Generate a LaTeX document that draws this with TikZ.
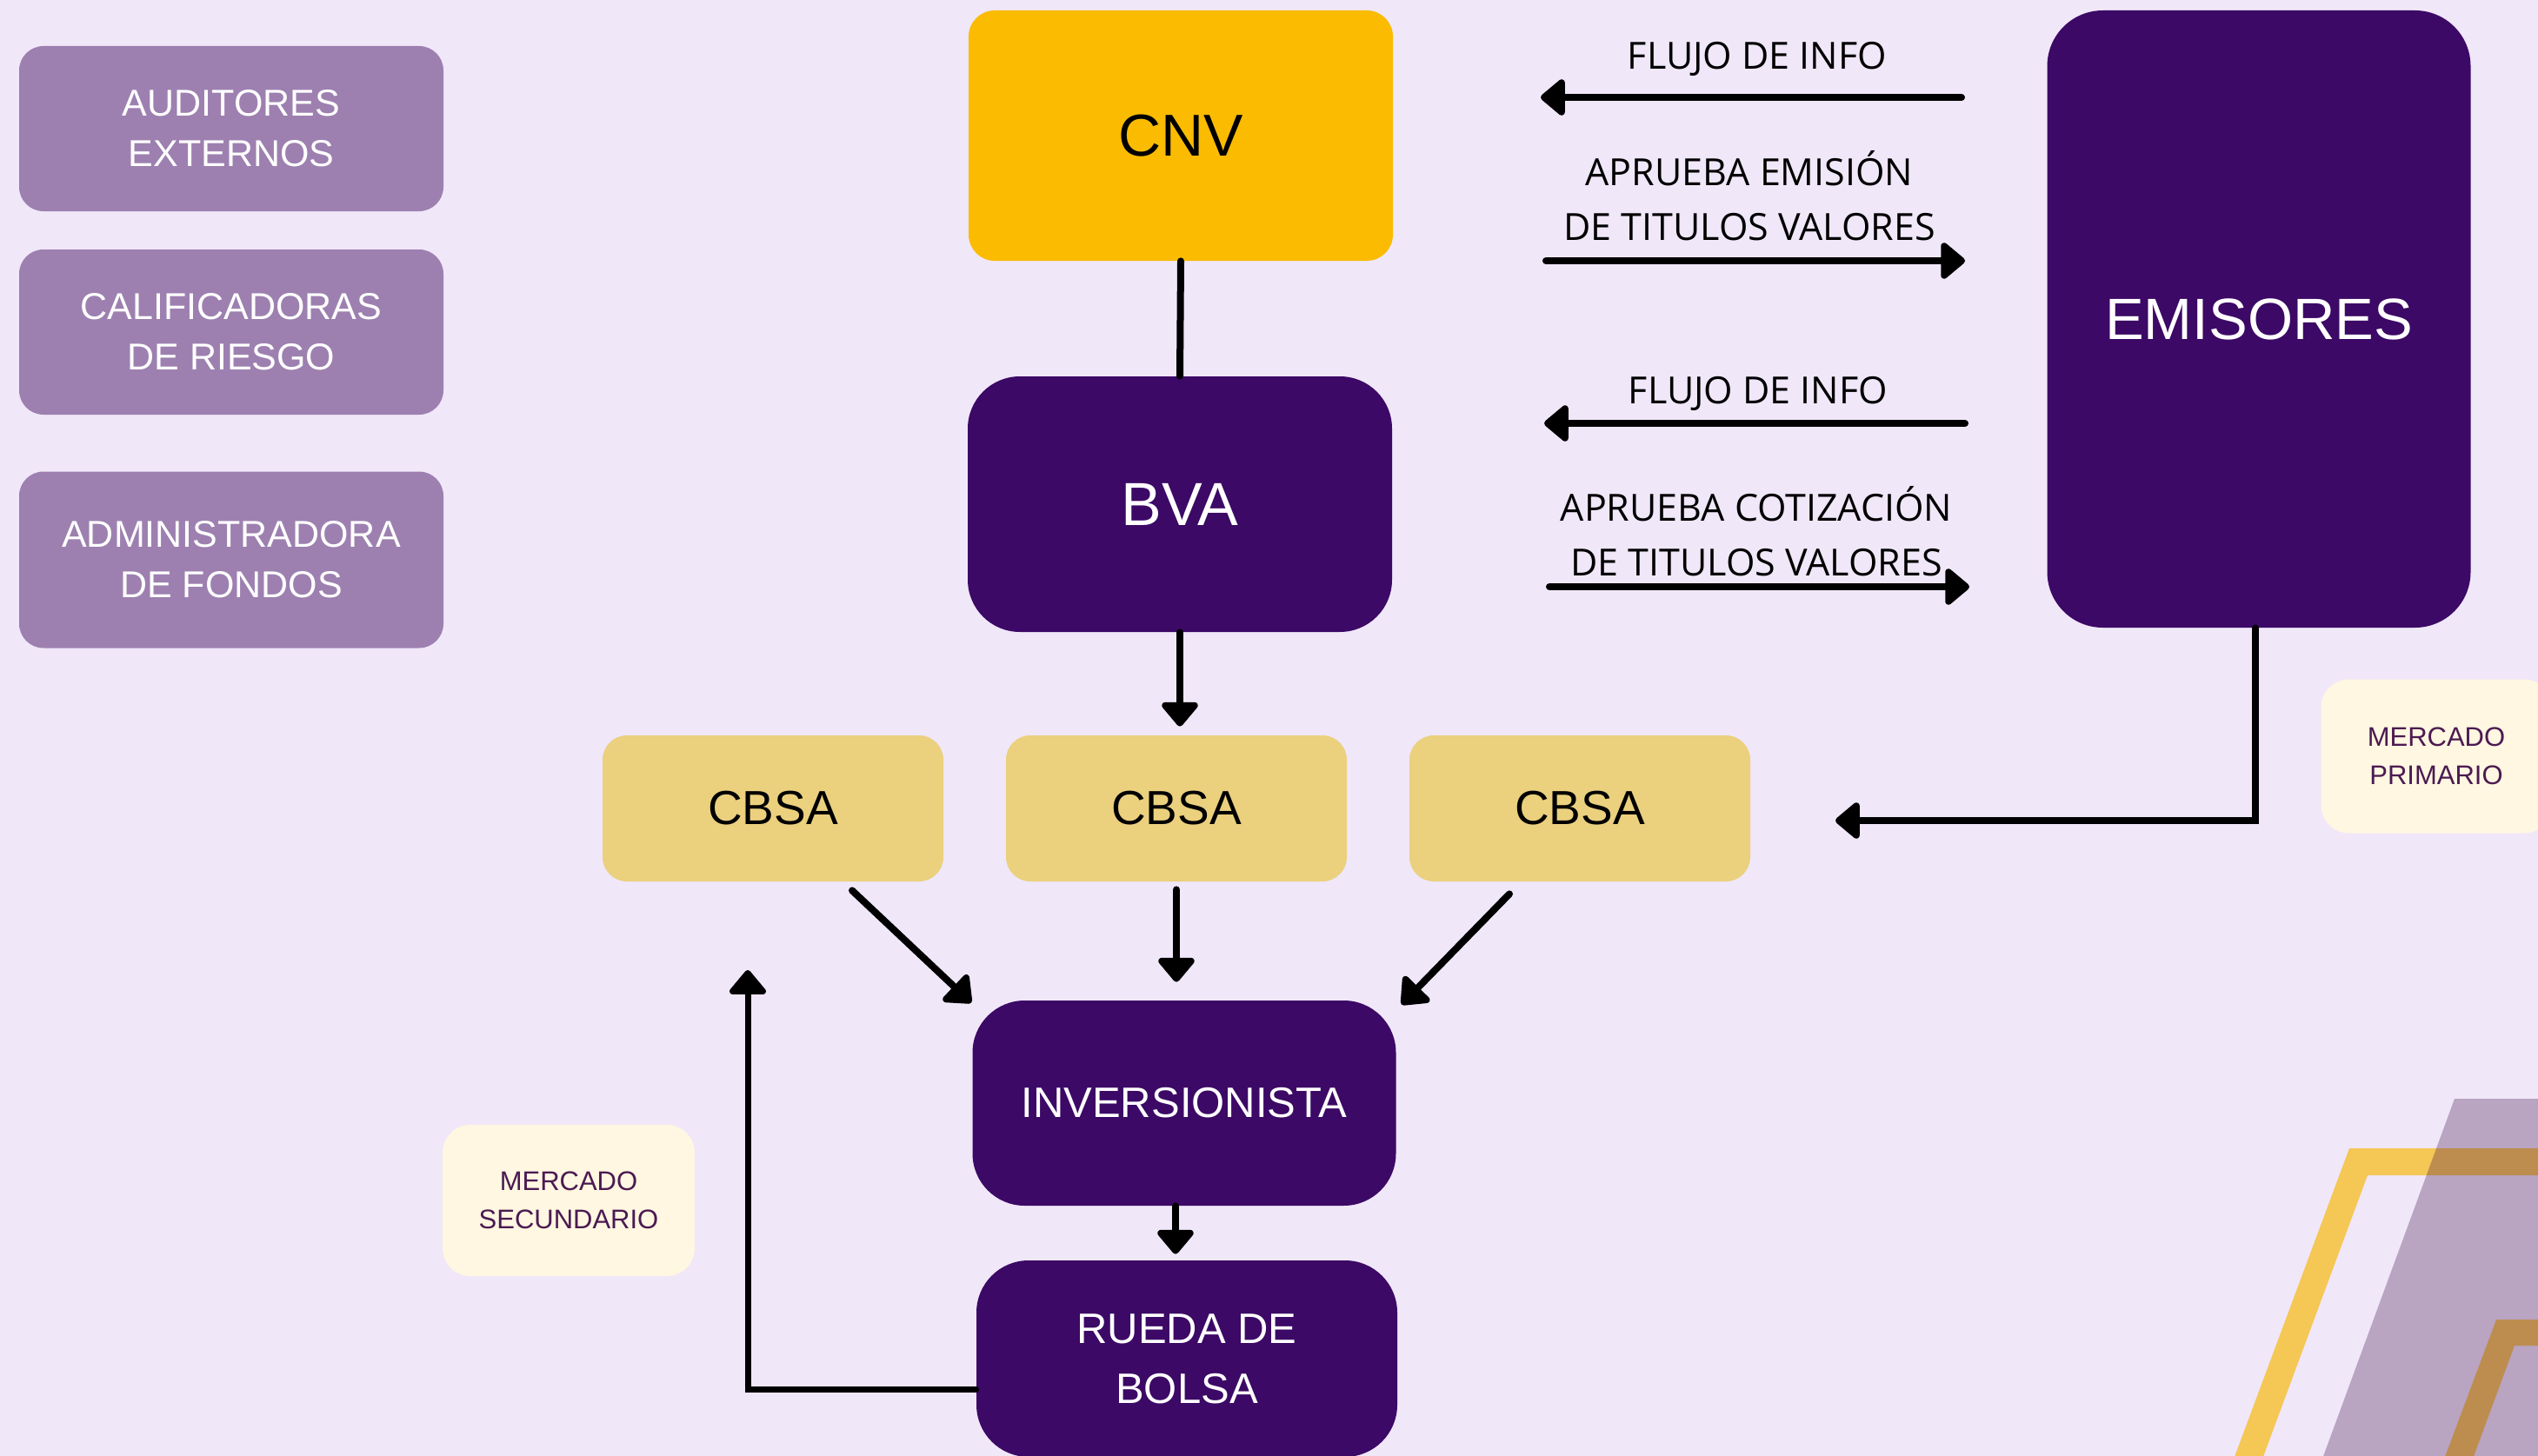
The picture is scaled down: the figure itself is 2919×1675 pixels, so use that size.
\documentclass[tikz,border=0pt]{standalone}
\usepackage{fontspec}
\setmainfont{Liberation Sans}
\newfontfamily\lblfont{Open Sans}
\usetikzlibrary{arrows.meta,calc}
\definecolor{bgc}{HTML}{F0E7F9}
\definecolor{lilac}{HTML}{9D80B0}
\definecolor{cnvy}{HTML}{FABB00}
\definecolor{deep}{HTML}{3C0966}
\definecolor{cbsay}{HTML}{EBD07E}
\definecolor{cream}{HTML}{FFF7E1}
\definecolor{plum}{HTML}{4B1A52}
\definecolor{stripey}{HTML}{F5C755}
\definecolor{overp}{HTML}{3C0A46}
\begin{document}
\begin{tikzpicture}[x=0.5pt,y=-0.5pt,
  sidebox/.style={fill=lilac, text=white, rounded corners=14pt, minimum width=244pt,
    align=center, inner sep=0pt, font=\fontsize{21.5pt}{29pt}\selectfont},
  darkbox/.style={fill=deep, text=white, rounded corners=30pt, inner sep=0pt, align=center},
  goldbox/.style={fill=cbsay, text=black, rounded corners=14pt, minimum width=196pt,
    minimum height=84pt, inner sep=0pt, font=\fontsize{27.5pt}{33pt}\selectfont},
  notebox/.style={fill=cream, text=plum, rounded corners=16pt, align=center, inner sep=0pt,
    font=\fontsize{15.5pt}{22pt}\selectfont},
  lbl/.style={font=\lblfont\fontsize{21.5pt}{31.5pt}\selectfont, align=center, anchor=base, inner sep=0pt},
  conn/.style={line width=4pt, line cap=round},
  arr/.style={conn, -{Triangle[width=24pt,length=15pt,round]}}
]
\useasboundingbox (0,0) rectangle (2919,1675);
\clip (0,0) rectangle (2919,1675);
\fill[bgc] (0,0) rectangle (2919,1675);

% decoration bottom right
\fill[stripey] (2561,1700) -- (2702,1321) -- (2930,1321) -- (2930,1352) -- (2723,1352) -- (2594,1700) -- cycle;
\fill[stripey] (2803,1700) -- (2871,1518) -- (2930,1518) -- (2930,1548) -- (2892,1548) -- (2836,1700) -- cycle;
\fill[overp, opacity=0.3] (2663,1700) -- (2823,1264) -- (2930,1264) -- (2930,1700) -- cycle;

% left boxes
\node[sidebox, minimum height=95pt] (aud) at (266,148) {AUDITORES\\EXTERNOS};
\node[sidebox, minimum height=95pt] (cal) at (266,382) {CALIFICADORAS\\DE RIESGO};
\node[sidebox, minimum height=101.5pt] (adm) at (266,644) {ADMINISTRADORA\\DE FONDOS};

% main nodes
\node[fill=cnvy, text=black, rounded corners=15pt, minimum width=244pt, minimum height=144pt,
  inner sep=0pt, font=\fontsize{34pt}{40pt}\selectfont] (cnv) at (1358,156) {CNV};
\node[darkbox, minimum width=244pt, minimum height=147pt, font=\fontsize{35pt}{40pt}\selectfont] (bva) at (1357,580) {BVA};
\node[darkbox, rounded corners=32pt, minimum width=243.5pt, minimum height=355pt,
  font=\fontsize{33.5pt}{40pt}\selectfont] (emi) at (2598,367) {EMISORES};
\node[goldbox] (cb1) at (889,930) {CBSA};
\node[goldbox] (cb2) at (1353,930) {CBSA};
\node[goldbox] (cb3) at (1817,930) {CBSA};
\node[darkbox, minimum width=243.5pt, minimum height=118pt, font=\fontsize{24.5pt}{30pt}\selectfont] (inv) at (1362,1269) {INVERSIONISTA};
\node[darkbox, minimum width=242pt, minimum height=113pt, font=\fontsize{24.5pt}{34.5pt}\selectfont] (rueda) at (1365,1563) {RUEDA DE\\BOLSA};
\node[notebox, minimum width=145pt, minimum height=87pt] (msec) at (654,1381) {MERCADO\\SECUNDARIO};
\node[notebox, minimum width=132.5pt, minimum height=88.5pt] (mprim) at (2802,870) {MERCADO\\PRIMARIO};

% arrow labels (anchor base = baseline of the last line)
\node[lbl] (l1) at (2021,80) {FLUJO DE INFO};
\node[lbl] (l2) at (2012,276) {APRUEBA EMISIÓN\\DE TITULOS VALORES};
\node[lbl] (l3) at (2022,464) {FLUJO DE INFO};
\node[lbl] (l4) at (2020,662) {APRUEBA COTIZACIÓN\\DE TITULOS VALORES};

% free arrow ends
\coordinate (f1s) at (2256,112); \coordinate (f1e) at (1772,112);
\coordinate (f2s) at (1778,300); \coordinate (f2e) at (2260,300);
\coordinate (f3s) at (2260,487); \coordinate (f3e) at (1776,487);
\coordinate (f4s) at (1782,675); \coordinate (f4e) at (2265,675);
\coordinate (a1s) at ($(cb1.south)+(91,10)$);
\coordinate (a1e) at ($(inv.north west)+(-1,3)$);
\coordinate (a3s) at ($(cb3.south)+(-81,14)$);
\coordinate (a3e) at ($(inv.north east)+(6,5)$);
\coordinate (ecb) at (2111,944);
\coordinate (fb) at (860,1116);

% connectors
\draw[arr] (f1s) -- (f1e);
\draw[arr] (f2s) -- (f2e);
\draw[arr] (f3s) -- (f3e);
\draw[arr] (f4s) -- (f4e);
\draw[conn] (cnv.south) -- (bva.north);
\draw[arr, shorten >=5pt] (bva.south) -- (bva.south |- cb2.north);
\draw[arr] (a1s) -- (a1e);
\draw[arr, shorten <=4.5pt, shorten >=10.5pt] (cb2.south) -- (cb2.south |- inv.north);
\draw[arr] (a3s) -- (a3e);
\draw[arr, shorten >=3.5pt] ([xshift=-5pt]inv.south) -- ([xshift=-5pt]inv.south |- rueda.north);
\draw[arr] ([xshift=-2pt]emi.south) |- (ecb);
\draw[arr, line width=3.5pt] ([yshift=-17.5pt]rueda.west) -| (fb);
\end{tikzpicture}
\end{document}
